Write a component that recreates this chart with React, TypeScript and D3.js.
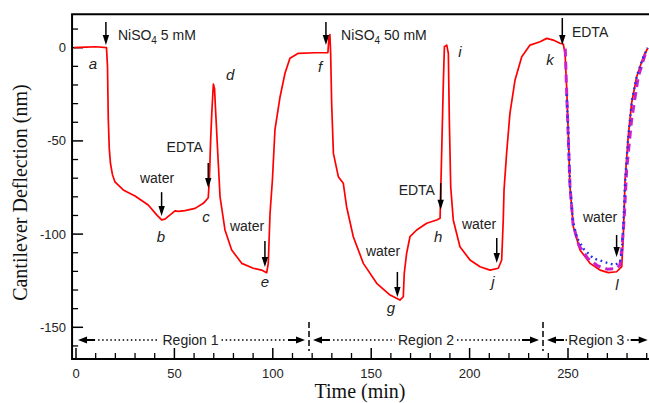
import * as d3 from "d3";

// red trace: time (min) / deflection (nm)
const redTime = [
  -1, 5, 10, 15.5, 16, 16.4, 16.9, 17.5, 18.5, 19.8, 24, 30, 36.7, 41, 43.5, 45.2, 47.8, 50.3, 52, 55.4, 60.5,
  64.7, 67.2, 67.8, 68.4, 69, 69.8, 70.4, 71, 72.3, 73.2, 75.7, 79.1, 84.2, 90.1, 94.3, 96.9, 97.7, 98.6,
  99.8, 101.1, 103.7, 106.2, 108.7, 113, 121.4, 128, 128.5, 129, 129.4, 129.9, 130.8, 133.3, 135.8, 137.5,
  140.9, 146, 152.8, 159.6, 164.6, 166.3, 166.8, 168, 169.7, 173.1, 178.2, 183.3, 185, 185.8, 186.6, 187.2,
  188.4, 189.2, 189.7, 190.4, 191.7, 195.1, 200.2, 205.3, 210.4, 214.6, 216.3, 217.1, 217.5, 218.8, 220.5,
  223.1, 226.5, 230.7, 235.8, 239.2, 242.5, 245.9, 247.6, 248.5, 249.3, 250.2, 251, 252.7, 256.1, 261.2,
  266.3, 270.5, 274.7, 277.3, 278.1, 279, 280.6, 282.3, 284.9, 288.3, 290.5,
];
const redDefl = [
  0, 0.3, 0.5, 0, -10, -38, -54, -62, -68, -72, -76.3, -79.6, -84.4, -89.7, -92.4, -92, -89.7, -87.5, -87.8, -87.4, -86.2,
  -83.5, -80.5, -70, -50, -35, -19.5, -22, -35, -62, -80, -97.8, -108.5, -115.7, -118.3, -119.3, -120.7, -115.7, -88.8,
  -71, -44, -26.3, -13.7, -5.7, -3, -2.7, -2.6, 5, 7, -3, -29.8, -56.7, -69.2, -72.7, -85.3,
  -101.4, -115.7, -126.4, -132.7, -135.4, -133.6, -121, -110.3, -101.4, -97.8, -94.2, -92.4, -91.5, -56.7, -20.9, 0.5,
  1.4, -3, -38.8, -74.6, -92.4, -106.8, -113.9, -117.5, -119.3, -118.3, -113.9, -92.4, -76.3, -56.7, -35.2,
  -17.3, -4.8, 1.4, 3.2, 5, 4.1, 2.4, 2, -3, -20.9, -47.7, -74.6, -96, -108.5, -115.7,
  -119.3, -120.7, -120.2, -117.5, -101.4, -71, -47.7, -29.8, -15.6, -4.8, -0.3,
];

// magenta dashed trace (region 3)
const magentaTime = [248.6, 249.2, 250.1, 251, 252.6, 255.5, 260, 265, 270, 274.5, 276.4, 277.3, 278.5, 279.8, 282.3, 285.7, 289.9];
const magentaDefl = [-0.5, -20, -47, -74, -95, -106, -113, -117, -118.8, -118.5, -116.6, -108.5, -92.4, -65.6, -38.8, -15.6, -1.2];

// blue dotted trace (region 3)
const blueTime = [249.3, 250.2, 251, 252.5, 254.5, 258, 262.9, 269.6, 273.9, 276.4, 277.3, 278.1, 279, 280.6, 282.5, 285, 288.3, 290.5];
const blueDefl = [-25, -47, -74, -93, -102, -108, -113, -115.3, -116.6, -115, -110, -96, -72, -48, -28, -15, -5, 0];

const xMajor = [0, 50, 100, 150, 200, 250];
const yMajor = [0, -50, -100, -150];

// arrows: time, top, tip (nm)
const arrowTime = [15.2, 127, 247.1, 67.2, 43.5, 96, 185.3, 163.3, 213.8, 274.7];
const arrowTop = [13.8, 13.8, 15.9, -61.9, -77.5, -103.7, -72.6, -120.3, -102.1, -100.5];
const arrowTip = [1.4, 1.4, 1.4, -75.3, -90.3, -117.6, -87, -133.7, -115.5, -112.3];

// text annotations
const noteText = ["water", "water", "EDTA", "water", "water", "EDTA", "water", "EDTA"];
const noteTime = [41.2, 86.9, 64.5, 156, 204.8, 182.4, 266.3, 252];
const noteDefl = [-72.6, -98.3, -56, -111.7, -97.3, -79, -93.5, 5.7];
const noteAnchor = ["middle", "middle", "end", "middle", "middle", "end", "middle", "start"];

const nickelText = ["5 mM", "50 mM"];
const nickelTime = [21.3, 134.7];
const nickelDefl = [4.1, 4.1];

const pointLetter = ["a", "b", "c", "d", "e", "f", "g", "h", "i", "j", "k", "l"];
const pointTime = [8.6, 43.2, 66, 78.3, 96, 124, 160, 184, 195.1, 211.9, 240.9, 274.9];
const pointDefl = [-11.5, -104.2, -93.5, -17.3, -128.4, -13, -142.3, -104.2, -4.9, -128.4, -9.3, -130];

const regionName = ["Region 1", "Region 2", "Region 3"];
const regionStart = [-2, 118.4, 237.3];
const regionEnd = [118.4, 237.3, 291.5];

const W = 649;
const H = 403;
const sans = "'Liberation Sans', Arial, sans-serif";
const serif = "'Liberation Serif', 'Times New Roman', serif";

export default function App() {
  const x = d3.scaleLinear().domain([0, 250]).range([76, 568]);
  const y = d3.scaleLinear().domain([0, -150]).range([47.7, 327.3]);
  const [x0, x1] = [-2, 291.5];
  const [yTop, yBot] = [18, -167];
  const left = x(x0);
  const right = x(x1);
  const top = y(yTop);
  const bottom = y(yBot);

  const path = (ts: number[], vs: number[]) =>
    d3
      .line<[number, number]>()
      .x((d) => x(d[0]))
      .y((d) => y(d[1]))(ts.map((t, i) => [t, vs[i]]))!;

  const xMinor = d3.range(0, 291, 10).filter((v) => !xMajor.includes(v));
  const yMinor = d3.range(10, -161, -10).filter((v) => !yMajor.includes(v));

  const rowY = 340;
  const head = (tipX: number, dir: number) =>
    `M${tipX},${rowY} L${tipX - dir * 9},${rowY - 3.5} L${tipX - dir * 9},${rowY + 3.5} Z`;

  return (
    <svg
      width={W}
      height={H}
      style={{ position: "absolute", left: 0, top: 0, background: "#fff" }}
      fontFamily={sans}
    >
      <rect width={W} height={H} fill="#fff" />

      {/* frame */}
      <path
        d={`M${right},${top} H${left} V${bottom} H${right}`}
        fill="none"
        stroke="#000"
        strokeWidth={2}
      />

      {/* y ticks */}
      {yMajor.map((v) => (
        <g key={"ym" + v}>
          <line x1={left} x2={left + 11} y1={y(v)} y2={y(v)} stroke="#000" strokeWidth={1.5} />
          <text x={left - 6} y={y(v) + 4.5} textAnchor="end" fontSize={13} fill="#222">
            {v}
          </text>
        </g>
      ))}
      {yMinor.map((v) => (
        <line key={"yn" + v} x1={left} x2={left + 6} y1={y(v)} y2={y(v)} stroke="#000" strokeWidth={1.3} />
      ))}

      {/* x ticks */}
      {xMajor.map((t) => (
        <g key={"xm" + t}>
          <line x1={x(t)} x2={x(t)} y1={bottom} y2={bottom - 11} stroke="#000" strokeWidth={1.5} />
          <text x={x(t)} y={bottom + 19} textAnchor="middle" fontSize={13} fill="#222">
            {t}
          </text>
        </g>
      ))}
      {xMinor.map((t) => (
        <line key={"xn" + t} x1={x(t)} x2={x(t)} y1={bottom} y2={bottom - 6} stroke="#000" strokeWidth={1.3} />
      ))}

      {/* axis titles */}
      <text x={360} y={398} textAnchor="middle" fontFamily={serif} fontSize={20} fill="#111">
        Time (min)
      </text>
      <text
        transform={`translate(27,${(top + bottom) / 2 + 6}) rotate(-90)`}
        textAnchor="middle"
        fontFamily={serif}
        fontSize={20}
        fill="#111"
      >
        Cantilever Deflection (nm)
      </text>

      {/* region row */}
      {regionName.map((name, i) => {
        const a = x(regionStart[i]) + (i === 0 ? 6 : 4);
        const b = x(regionEnd[i]) - (i === 2 ? 2 : 4);
        const mid = (x(regionStart[i]) + x(regionEnd[i])) / 2;
        return (
          <g key={name}>
            <path d={head(a, -1)} fill="#000" />
            <path d={head(b, 1)} fill="#000" />
            <line x1={a + 8} x2={a + 17} y1={rowY} y2={rowY} stroke="#000" strokeWidth={2} />
            <line x1={b - 17} x2={b - 8} y1={rowY} y2={rowY} stroke="#000" strokeWidth={2} />
            <line x1={a + 20} x2={mid - 31} y1={rowY} y2={rowY} stroke="#000" strokeWidth={1.5} strokeDasharray="1.5 2.6" />
            <line x1={mid + 31} x2={b - 19} y1={rowY} y2={rowY} stroke="#000" strokeWidth={1.5} strokeDasharray="1.5 2.6" />
            <text x={mid} y={rowY + 5} textAnchor="middle" fontSize={14} fill="#222">
              {name}
            </text>
          </g>
        );
      })}
      {regionEnd.slice(0, 2).map((t) => (
        <line key={"rb" + t} x1={x(t)} x2={x(t)} y1={322} y2={351} stroke="#000" strokeWidth={1.5} strokeDasharray="6 3" />
      ))}

      {/* data */}
      <path d={path(redTime, redDefl)} fill="none" stroke="#ff0000" strokeWidth={1.7} strokeLinejoin="round" />
      <path d={path(magentaTime, magentaDefl)} fill="none" stroke="#cc22cc" strokeWidth={3} strokeDasharray="8 5" />
      <path d={path(blueTime, blueDefl)} fill="none" stroke="#2233ee" strokeWidth={2.4} strokeDasharray="1.8 3.6" />

      {/* arrows */}
      {arrowTime.map((t, i) => {
        const ax = x(t);
        const y0 = y(arrowTop[i]);
        const y1 = y(arrowTip[i]);
        return (
          <g key={"ar" + i}>
            <line x1={ax} x2={ax} y1={y0} y2={y1 - 6} stroke="#000" strokeWidth={1.5} />
            <path d={`M${ax},${y1} L${ax - 3.2},${y1 - 10} L${ax + 3.2},${y1 - 10} Z`} fill="#000" />
          </g>
        );
      })}

      {/* annotations */}
      {noteText.map((s, i) => (
        <text
          key={"nt" + i}
          x={x(noteTime[i])}
          y={y(noteDefl[i])}
          textAnchor={noteAnchor[i] as any}
          fontSize={14}
          fill="#222"
        >
          {s}
        </text>
      ))}
      {nickelText.map((s, i) => (
        <text key={"ni" + i} x={x(nickelTime[i])} y={y(nickelDefl[i])} fontSize={14} fill="#222">
          NiSO
          <tspan fontSize={10} dy={4}>
            4
          </tspan>
          <tspan dy={-4}> {s}</tspan>
        </text>
      ))}
      {pointLetter.map((s, i) => (
        <text
          key={"pl" + i}
          x={x(pointTime[i])}
          y={y(pointDefl[i])}
          textAnchor="middle"
          fontSize={15}
          fontStyle="italic"
          fill="#222"
        >
          {s}
        </text>
      ))}
    </svg>
  );
}
